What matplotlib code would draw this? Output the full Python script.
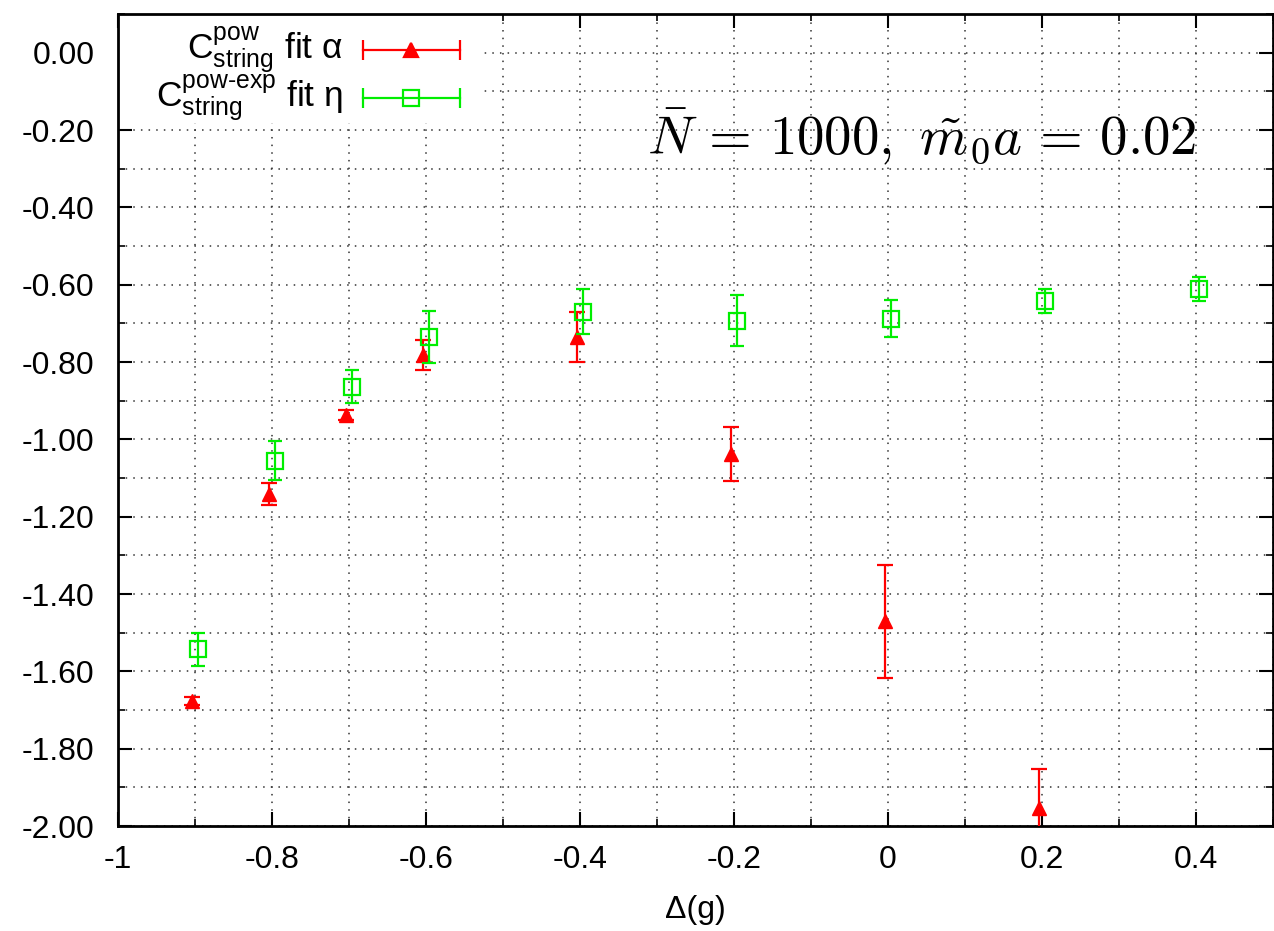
import numpy as np
import matplotlib
matplotlib.use("Agg")
import matplotlib.pyplot as plt
from matplotlib.ticker import MultipleLocator, FormatStrFormatter

plt.rcParams['font.family'] = ['Liberation Sans', 'DejaVu Sans']
plt.rcParams['mathtext.fontset'] = 'custom'
plt.rcParams['mathtext.rm'] = 'Liberation Sans'
plt.rcParams['mathtext.it'] = 'Liberation Sans:italic'

# data
x_alpha = [-0.9, -0.8, -0.7, -0.6, -0.4, -0.2, 0.0, 0.2]
alpha = [-1.677, -1.141, -0.937, -0.782, -0.735, -1.037, -1.470, -1.953]
alpha_err = [0.010, 0.028, 0.014, 0.038, 0.065, 0.070, 0.146, 0.100]

x_eta = [-0.9, -0.8, -0.7, -0.6, -0.4, -0.2, 0.0, 0.2, 0.4]
eta = [-1.543, -1.055, -0.864, -0.735, -0.670, -0.693, -0.688, -0.642, -0.611]
eta_err = [0.043, 0.050, 0.043, 0.068, 0.058, 0.066, 0.048, 0.031, 0.031]

label_alpha = r"$\mathrm{C}^{\mathrm{pow}}_{\mathrm{string}}$ fit α"
label_eta = r"$\mathrm{C}^{\mathrm{pow\text{-}exp}}_{\mathrm{string}}$ fit η"

RED = '#ff0000'
GREEN = '#00ee00'

fig = plt.figure(figsize=(12.74, 9.31), dpi=100)
ax = fig.add_axes([118 / 1274, 105 / 931, 1155 / 1274, 812 / 931])

# small horizontal shift like in the original plot
xa = np.array(x_alpha) - 0.004
xe = np.array(x_eta) + 0.004

ax.errorbar(xa, alpha, yerr=alpha_err, fmt='^', color=RED, ms=9.5,
            elinewidth=1.6, capsize=5.5, capthick=1.6, zorder=4)
ax.errorbar(xe, eta, yerr=eta_err, fmt='s', color=GREEN, ms=11, mfc='none',
            mew=1.6, elinewidth=1.6, capsize=5, capthick=1.6, zorder=5)

ax.set_xlim(-1, 0.5)
ax.set_ylim(-2.0, 0.1)
ax.xaxis.set_major_locator(MultipleLocator(0.2))
ax.xaxis.set_minor_locator(MultipleLocator(0.1))
ax.yaxis.set_major_locator(MultipleLocator(0.2))
ax.yaxis.set_minor_locator(MultipleLocator(0.1))
ax.xaxis.set_major_formatter(plt.FuncFormatter(lambda v, p: '%g' % round(v, 2)))
ax.yaxis.set_major_formatter(FormatStrFormatter('%.2f'))

ax.tick_params(which='both', direction='in', top=True, right=True, labelsize=23)
ax.tick_params(which='major', length=10, width=1.5)
ax.tick_params(which='minor', length=5, width=1.2)
ax.tick_params(axis='y', which='major', pad=17)
ax.tick_params(axis='x', which='major', pad=14)

ax.grid(True, which='both', color='#333333', linestyle=(0, (1, 4)), linewidth=1.1)
ax.set_axisbelow(True)
for s in ax.spines.values():
    s.set_linewidth(2)

ax.set_xlabel('Δ(g)', fontsize=23, labelpad=14)

# gnuplot style key: white box, text right aligned, sample on the right
ax.add_patch(plt.Rectangle((0, 0.866), 0.313, 0.134, transform=ax.transAxes,
                           facecolor='white', edgecolor='none', zorder=2))
rows = [(label_alpha, RED, '^', 'full', 0.9557), (label_eta, GREEN, 's', 'none', 0.8966)]
for text, col, mk, fill, yy in rows:
    ax.text(0.1946, yy, text, transform=ax.transAxes, ha='right', va='center',
            fontsize=25.5, zorder=6)
    ax.plot([0.212, 0.296], [yy, yy], transform=ax.transAxes, color=col, lw=1.6,
            marker='|', ms=14, mew=1.6, zorder=6, clip_on=False)
    ax.plot([0.254], [yy], transform=ax.transAxes, color=col, marker=mk,
            ms=9.5 if mk == '^' else 11, mfc=col if fill == 'full' else 'none',
            mew=1.6, zorder=7)

ax.text(0.6955, 0.8276, r"$\bar{N}\,=\,1000,\ \tilde{m}_0 a\,=\,0.02$", transform=ax.transAxes,
        ha='center', va='baseline', fontsize=39.5, math_fontfamily='cm', zorder=6)

fig.savefig('out.png', dpi=100)
